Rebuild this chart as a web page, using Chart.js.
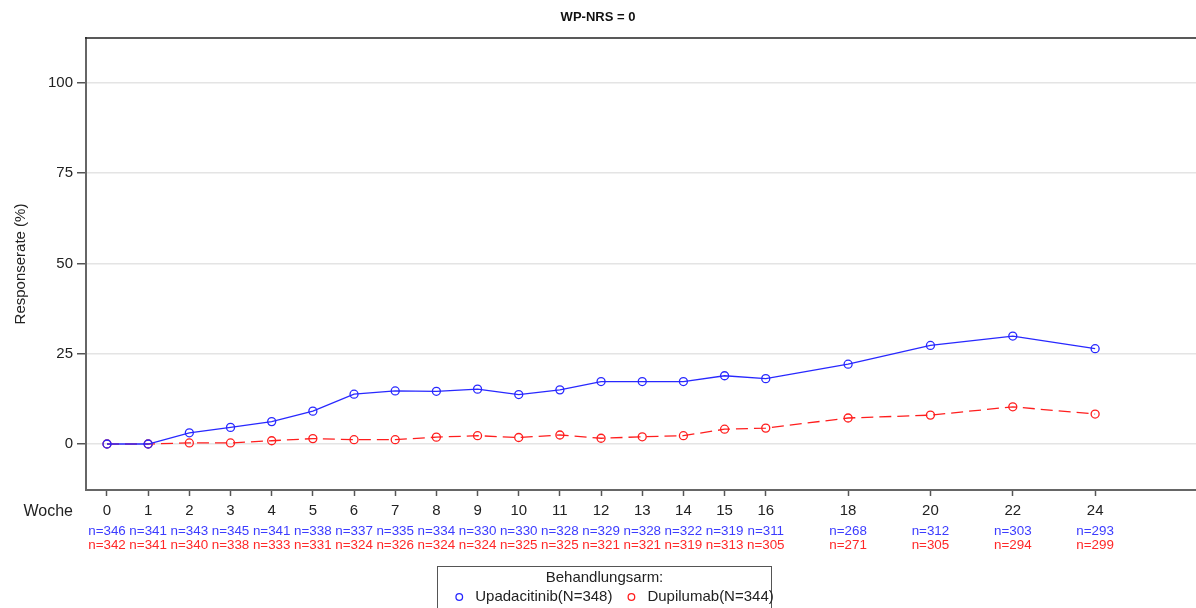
<!DOCTYPE html>
<html lang="de">
<head>
<meta charset="utf-8">
<title>WP-NRS = 0</title>
<script src="https://cdn.jsdelivr.net/npm/chart.js@4"></script>
<style>
    html, body { margin: 0; padding: 0; background: #ffffff; }
    #wrap { width: 1196px; height: 608px; }
</style>
</head>
<body>
<div id="wrap"><canvas id="responseChart" width="1196" height="608"></canvas></div>
<script>
// Responserate WP-NRS = 0 nach Woche

const weeks = [0, 1, 2, 3, 4, 5, 6, 7, 8, 9, 10, 11, 12, 13, 14, 15, 16, 18, 20, 22, 24];

// Upadacitinib (N=348)
const upaRate = [0, 0, 3.1, 4.6, 6.2, 9.1, 13.8, 14.7, 14.6, 15.2, 13.7, 15.0, 17.3, 17.3, 17.3, 18.9, 18.1, 22.1, 27.3, 29.9, 26.4];
const upaN = [346, 341, 343, 345, 341, 338, 337, 335, 334, 330, 330, 328, 329, 328, 322, 319, 311, 268, 312, 303, 293];

// Dupilumab (N=344)
const dupiRate = [0, 0, 0.3, 0.3, 0.9, 1.5, 1.2, 1.2, 1.9, 2.3, 1.8, 2.5, 1.6, 2.0, 2.3, 4.1, 4.4, 7.2, 8.0, 10.3, 8.3];
const dupiN = [342, 341, 340, 338, 333, 331, 324, 326, 324, 324, 325, 325, 321, 321, 319, 313, 305, 271, 305, 294, 299];

const yTicks = [0, 25, 50, 75, 100];

const seriesLabels = ['Upadacitinib(N=348)', 'Dupilumab(N=344)'];
const legendTitle = 'Behandlungsarm:';

const FONT = "Arial, 'Liberation Sans', sans-serif";
const BLUE = 'rgb(40, 40, 255)';
const RED = 'rgb(255, 30, 30)';
const BLUE_TEXT = 'rgb(60, 60, 255)';
const RED_TEXT = 'rgb(255, 40, 40)';

function toPoints(values) {
    return weeks.map((w, i) => ({ x: w, y: values[i] }));
}

// top frame line, "Woche", n= rows and the boxed legend
const annotations = {
    id: 'annotations',
    afterDraw(chart) {
        const ctx = chart.ctx;
        const area = chart.chartArea;
        const xScale = chart.scales.x;

        ctx.save();
        ctx.strokeStyle = '#222222';
        ctx.lineWidth = 1.5;
        ctx.beginPath();
        ctx.moveTo(area.left - 1, area.top);
        ctx.lineTo(area.right, area.top);
        ctx.stroke();

        ctx.fillStyle = '#222222';
        ctx.font = '16px ' + FONT;
        ctx.textAlign = 'right';
        ctx.textBaseline = 'middle';
        ctx.fillText('Woche', 73, 512);

        ctx.font = '13.4px ' + FONT;
        ctx.textAlign = 'center';
        weeks.forEach((w, i) => {
            const px = xScale.getPixelForValue(w);
            ctx.fillStyle = BLUE_TEXT;
            ctx.fillText('n=' + upaN[i], px, 531);
            ctx.fillStyle = RED_TEXT;
            ctx.fillText('n=' + dupiN[i], px, 545);
        });

        // legend
        const cx = 604.5;
        ctx.font = '15px ' + FONT;
        const w1 = ctx.measureText(seriesLabels[0]).width;
        const w2 = ctx.measureText(seriesLabels[1]).width;
        const itemsWidth = 16 + w1 + 11 + 16 + w2;
        const boxLeft = 437.5;
        const boxRight = 771.5;
        ctx.strokeStyle = '#555555';
        ctx.lineWidth = 1;
        ctx.strokeRect(boxLeft, 566.5, boxRight - boxLeft, 50);

        ctx.fillStyle = '#222222';
        ctx.textAlign = 'center';
        ctx.fillText(legendTitle, cx, 578);

        let x = cx - itemsWidth / 2 + 8;
        const itemY = 597;
        [[BLUE, seriesLabels[0], w1], [RED, seriesLabels[1], w2]].forEach(([color, text, tw]) => {
            ctx.strokeStyle = color;
            ctx.lineWidth = 1.3;
            ctx.beginPath();
            ctx.arc(x, itemY, 3.3, 0, Math.PI * 2);
            ctx.stroke();
            ctx.fillStyle = '#222222';
            ctx.textAlign = 'left';
            ctx.fillText(text, x + 16, itemY);
            x += 16 + tw + 11 + 8;
        });
        ctx.restore();
    }
};

new Chart(document.getElementById('responseChart'), {
    type: 'line',
    data: {
        datasets: [{
            label: seriesLabels[0],
            data: toPoints(upaRate),
            borderColor: BLUE,
            backgroundColor: 'transparent',
            borderWidth: 1.3,
            pointRadius: 4,
            pointBorderWidth: 1.3,
            pointBorderColor: BLUE,
            pointBackgroundColor: 'transparent',
            tension: 0
        }, {
            label: seriesLabels[1],
            data: toPoints(dupiRate),
            borderColor: RED,
            backgroundColor: 'transparent',
            borderWidth: 1.3,
            borderDash: [12, 6],
            pointRadius: 4,
            pointBorderWidth: 1.3,
            pointBorderColor: RED,
            pointBackgroundColor: 'transparent',
            tension: 0
        }]
    },
    options: {
        responsive: false,
        animation: false,
        layout: { autoPadding: false, padding: { left: 0, right: 0, top: 0, bottom: 48 } },
        plugins: {
            legend: { display: false },
            tooltip: { enabled: false },
            title: {
                display: true,
                text: 'WP-NRS = 0',
                color: '#111111',
                font: { family: FONT, size: 13, weight: 'bold' },
                padding: { top: 10, bottom: 12.4 }
            }
        },
        scales: {
            x: {
                type: 'linear',
                min: -0.51,
                max: 26.45,
                afterBuildTicks: (scale) => { scale.ticks = weeks.map(v => ({ value: v })); },
                afterFit: (scale) => { scale.height = 70; },
                grid: {
                    drawOnChartArea: false,
                    drawTicks: true,
                    tickLength: 6,
                    tickColor: '#555555',
                    tickWidth: 1.5
                },
                border: { display: true, color: '#666666', width: 2 },
                ticks: {
                    autoSkip: false,
                    maxRotation: 0,
                    padding: 6,
                    color: '#222222',
                    font: { family: FONT, size: 15 },
                    callback: (v) => String(v)
                }
            },
            y: {
                min: -12.74,
                max: 112.46,
                afterBuildTicks: (scale) => { scale.ticks = yTicks.map(v => ({ value: v })); },
                afterFit: (scale) => { scale.width = 86; },
                grid: {
                    color: '#e4e4e4',
                    lineWidth: 1.5,
                    drawTicks: true,
                    tickLength: 9,
                    tickColor: '#555555',
                    tickWidth: 1.5
                },
                border: { display: true, color: '#666666', width: 2 },
                title: {
                    display: true,
                    text: 'Responserate (%)',
                    color: '#222222',
                    font: { family: FONT, size: 15 },
                    padding: { top: 12, bottom: 0 }
                },
                ticks: {
                    padding: 4,
                    color: '#222222',
                    font: { family: FONT, size: 15 },
                    callback: (v) => String(v)
                }
            }
        }
    },
    plugins: [annotations]
});
</script>
</body>
</html>
